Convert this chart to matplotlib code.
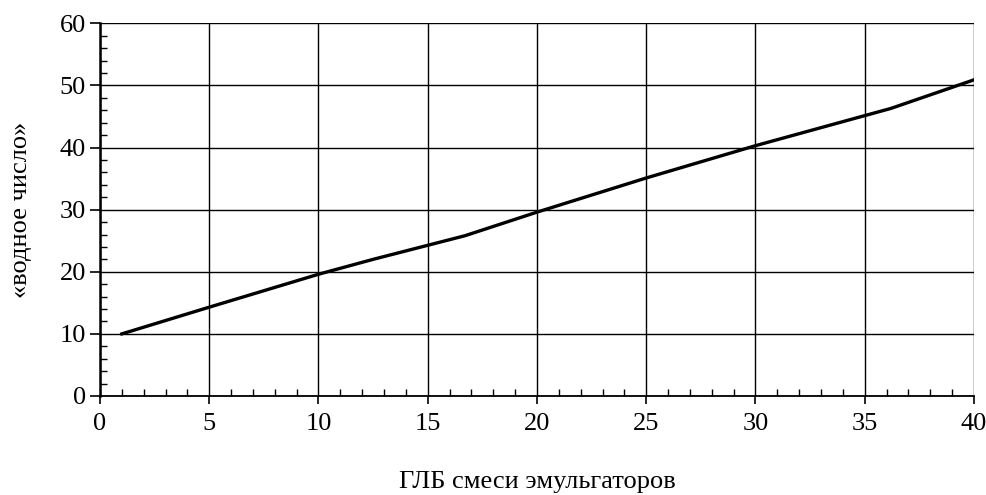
import matplotlib
matplotlib.use("Agg")
import matplotlib.pyplot as plt
from matplotlib.ticker import MultipleLocator

plt.rcParams['font.family'] = ['Liberation Serif', 'DejaVu Serif']

hlb = [1, 5, 10, 12.5, 16.7, 20, 25, 30, 36.2, 40]
water_number = [10, 14.3, 19.6, 22.0, 25.8, 29.6, 35.1, 40.3, 46.3, 50.9]

xlabel = "ГЛБ смеси эмульгаторов"
ylabel = "«водное число»"

fig = plt.figure(figsize=(9.87, 4.95), dpi=100)
ax = fig.add_axes([0.1013, 0.2, 0.8855, 0.7529])

ax.plot(hlb, water_number, color='black', lw=2.4, solid_joinstyle='round', zorder=3)

ax.set_xlim(0, 40)
ax.set_ylim(0, 60)
ax.xaxis.set_major_locator(MultipleLocator(5))
ax.xaxis.set_minor_locator(MultipleLocator(1))
ax.yaxis.set_major_locator(MultipleLocator(10))
ax.yaxis.set_minor_locator(MultipleLocator(2))

ax.grid(True, which='major', color='black', lw=1.0)
ax.set_axisbelow(True)

for s in ['top', 'right']:
    ax.spines[s].set_visible(False)
ax.spines['left'].set_linewidth(1.8)
ax.spines['bottom'].set_linewidth(1.3)

ax.tick_params(axis='x', which='major', direction='out', length=6, width=1.2,
               labelsize=19, pad=6)
ax.tick_params(axis='x', which='minor', direction='in', length=5, width=1.0)
ax.tick_params(axis='y', which='major', direction='out', length=7, width=1.2,
               labelsize=19, pad=3)
ax.tick_params(axis='y', which='minor', direction='in', length=5, width=1.0)

ax.set_xlabel(xlabel, fontsize=19, labelpad=26)
ax.set_ylabel(ylabel, fontsize=19, labelpad=20)

fig.savefig("out.png", dpi=100)
